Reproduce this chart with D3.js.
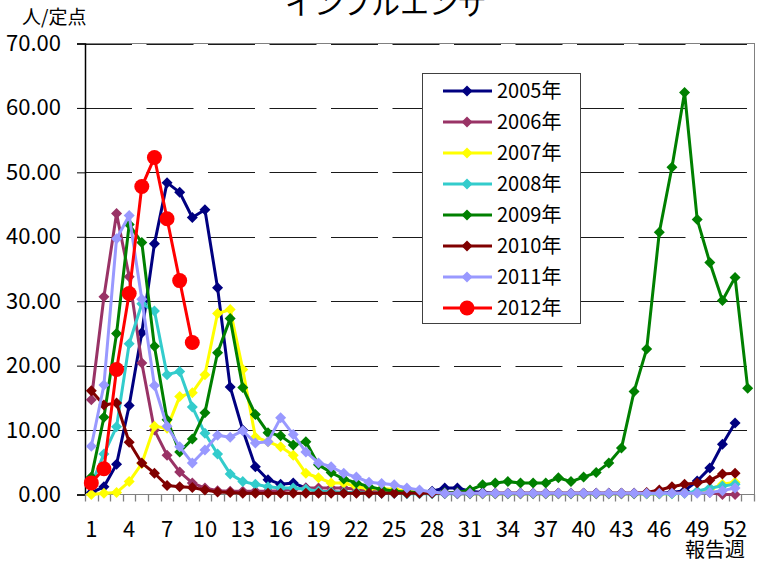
<!DOCTYPE html>
<html><head><meta charset="utf-8">
<script src="https://cdn.jsdelivr.net/npm/d3@7/dist/d3.min.js"></script>
<style>
html,body{margin:0;padding:0;background:#fff;}
svg text{font-family:"Noto Sans CJK JP","Noto Sans",sans-serif;}
</style></head>
<body><svg id="c" width="763" height="562"></svg>
<script>
const title = "インフルエンザ";
const yUnit = "人/定点";
const xUnit = "報告週";
const weeks = d3.range(1, 54);
const xTickLabels = [1,4,7,10,13,16,19,22,25,28,31,34,37,40,43,46,49,52];
const yTicks = [0,10,20,30,40,50,60,70];
const seriesNames = ["2005年","2006年","2007年","2008年","2009年","2010年","2011年","2012年"];
const seriesColors = ["#000080","#993366","#FFFF00","#33CCCC","#008000","#800000","#9999FF","#FF0000"];

const s2005 = [0.3,1.2,4.7,13.8,25.1,38.9,48.4,46.9,43.0,44.2,32.1,16.7,10.0,4.3,2.3,1.6,1.8,1.0,0.5,0.4,0.3,0.3,0.3,0.2,0.2,0.2,0.3,0.5,1.0,1.0,0.5,0.3,0.2,0.2,0.2,0.2,0.2,0.2,0.2,0.2,0.2,0.2,0.2,0.2,0.2,0.2,0.3,0.6,2.1,4.1,7.8,11.1];
const s2006 = [14.7,30.7,43.6,33.8,20.4,10.0,6.1,3.5,1.8,1.0,0.6,0.5,0.5,0.5,0.5,0.6,0.8,1.0,1.0,1.0,1.0,0.8,0.5,0.4,0.3,0.2,0.2,0.2,0.2,0.1,0.1,0.1,0.1,0.1,0.1,0.1,0.1,0.1,0.1,0.1,0.1,0.1,0.1,0.1,0.1,0.1,0.2,0.3,0.3,0.3,0.0,0.0];
const s2007 = [0.0,0.2,0.3,2.0,4.8,10.6,10.3,15.2,15.8,18.6,28.1,28.7,19.4,8.9,8.2,7.4,6.1,3.3,2.6,1.8,1.8,1.2,0.9,0.9,0.8,0.5,0.4,0.3,0.2,0.2,0.1,0.1,0.1,0.1,0.1,0.1,0.1,0.1,0.1,0.1,0.1,0.1,0.1,0.1,0.1,0.1,0.1,0.2,0.3,0.8,1.6,1.9];
const s2008 = [1.5,6.3,10.5,23.4,29.6,28.5,18.6,19.1,13.6,9.5,6.3,3.2,2.0,1.6,1.2,1.0,1.0,0.8,0.5,0.4,0.3,0.3,0.2,0.2,0.2,0.1,0.1,0.1,0.1,0.1,0.1,0.1,0.1,0.1,0.1,0.1,0.1,0.1,0.1,0.1,0.1,0.1,0.1,0.1,0.1,0.1,0.1,0.2,0.5,1.0,1.3,1.6];
const s2009 = [2.7,12.0,25.0,41.9,39.1,23.0,11.6,6.6,8.6,12.7,22.0,27.3,16.6,12.4,9.6,9.1,7.7,8.2,4.6,3.4,2.4,1.8,1.2,0.8,0.5,0.4,0.3,0.3,0.3,0.3,0.7,1.5,1.8,2.0,1.8,1.8,1.8,2.6,2.0,2.7,3.4,4.9,7.2,16.0,22.6,40.7,50.8,62.4,42.7,36.0,30.1,33.7,16.5];
const s2010 = [16.1,13.9,14.2,8.1,4.9,3.3,1.4,1.2,1.1,0.7,0.4,0.3,0.2,0.2,0.2,0.2,0.2,0.2,0.2,0.2,0.2,0.2,0.2,0.2,0.2,0.2,0.2,0.2,0.2,0.2,0.2,0.2,0.2,0.2,0.2,0.2,0.2,0.2,0.2,0.2,0.2,0.2,0.2,0.2,0.3,0.7,1.2,1.6,1.8,2.2,3.2,3.3];
const s2011 = [7.5,17.0,39.7,43.3,30.3,16.9,10.6,7.4,4.9,6.9,9.2,8.9,9.9,8.0,8.2,11.9,9.3,6.6,4.9,4.3,3.3,2.7,1.9,1.7,1.5,1.0,0.7,0.4,0.2,0.2,0.2,0.2,0.2,0.2,0.2,0.2,0.2,0.2,0.2,0.2,0.2,0.2,0.2,0.2,0.2,0.2,0.2,0.2,0.2,0.3,0.6,1.0];
const s2012 = [1.8,4.0,19.4,31.2,47.8,52.3,42.8,33.2,23.6];

const seriesValues = [s2005,s2006,s2007,s2008,s2009,s2010,s2011,s2012];

const svg = d3.select("#c");
const mLeft = 85, mRight = 754, mTop = 43.5, mBottom = 494.5;

const x = d3.scaleBand().domain(weeks).range([mLeft, mRight]).padding(0);
const y = d3.scaleLinear().domain([0, 70]).range([mBottom, mTop]);

// plot border (gray)
svg.append("rect").attr("x", mLeft).attr("y", mTop).attr("width", mRight-mLeft).attr("height", mBottom-mTop)
  .attr("fill", "none").attr("stroke", "#808080").attr("stroke-width", 1).attr("shape-rendering","crispEdges");

// dashed gridlines
svg.append("g").selectAll("line").data(yTicks.filter(d => d > 0)).join("line")
  .attr("x1", mLeft).attr("x2", mRight).attr("y1", d => Math.round(y(d))+0.5).attr("y2", d => Math.round(y(d))+0.5)
  .attr("stroke", "#1a1a1a").attr("stroke-width", 1.2).attr("stroke-dasharray", "47,14.5");

// y axis
const yAxis = d3.axisLeft(y).tickValues(yTicks).tickSize(8).tickPadding(16).tickFormat(d3.format(".2f"));
const gy = svg.append("g").attr("transform", `translate(${mLeft},0)`).call(yAxis);
gy.select(".domain").attr("stroke", "#000").attr("stroke-width", 1.5);
gy.selectAll(".tick line").attr("stroke", "#000");
gy.selectAll("text").attr("font-size", 22).attr("fill", "#000").attr("font-family", '"Noto Sans CJK JP",sans-serif');

// x axis
svg.append("line").attr("x1", mLeft).attr("x2", mRight).attr("y1", mBottom).attr("y2", mBottom).attr("stroke", "#808080");
const bounds = d3.range(0, 54).map(i => mLeft + i * x.bandwidth());
svg.append("g").selectAll("line").data(bounds).join("line")
  .attr("x1", d => Math.round(d)+0.5).attr("x2", d => Math.round(d)+0.5).attr("y1", mBottom).attr("y2", mBottom+7)
  .attr("stroke", "#808080").attr("stroke-width", 1.3);
svg.append("g").selectAll("text").data(xTickLabels).join("text")
  .attr("x", d => x(d) + x.bandwidth()/2).attr("y", 537).attr("text-anchor", "middle")
  .attr("font-size", 22).attr("fill", "#000").text(d => d);

// lines and markers
const line = d3.line().defined(d => d.v != null).x(d => x(d.w) + x.bandwidth()/2).y(d => y(d.v));
const diamond = r => `M0,${-r}L${r},0L0,${r}L${-r},0Z`;

seriesValues.forEach((vals, si) => {
  const pts = weeks.map((w, i) => ({w, v: i < vals.length ? vals[i] : null}));
  const col = seriesColors[si];
  const g = svg.append("g");
  g.append("path").datum(pts).attr("d", line).attr("fill", "none").attr("stroke", col)
    .attr("stroke-width", 3).attr("stroke-linejoin", "round");
  const valid = pts.filter(d => d.v != null);
  if (si === 7) {
    g.selectAll("circle").data(valid).join("circle")
      .attr("cx", d => x(d.w) + x.bandwidth()/2).attr("cy", d => y(d.v)).attr("r", 7.5).attr("fill", col);
  } else {
    g.selectAll("path.m").data(valid).join("path").attr("class","m")
      .attr("transform", d => `translate(${x(d.w) + x.bandwidth()/2},${y(d.v)})`)
      .attr("d", diamond(5.5)).attr("fill", col);
  }
});

// legend
const lg = svg.append("g");
lg.append("rect").attr("x", 422.5).attr("y", 73.5).attr("width", 158).attr("height", 250)
  .attr("fill", "#fff").attr("stroke", "#404040").attr("stroke-width", 1);
seriesNames.forEach((name, i) => {
  const cy = 91 + i * 31;
  const col = seriesColors[i];
  lg.append("line").attr("x1", 443).attr("x2", 492).attr("y1", cy).attr("y2", cy).attr("stroke", col).attr("stroke-width", 3);
  if (i === 7) lg.append("circle").attr("cx", 467).attr("cy", cy).attr("r", 7.5).attr("fill", col);
  else lg.append("path").attr("transform", `translate(467,${cy})`).attr("d", diamond(5.5)).attr("fill", col);
  lg.append("text").attr("x", 497).attr("y", cy).attr("dy", "0.36em").attr("font-size", 20).attr("fill", "#000").text(name);
});

// titles
svg.append("text").attr("x", 386).attr("y", 15).attr("text-anchor", "middle").attr("font-size", 29).attr("fill", "#000").text(title);
svg.append("text").attr("x", 22).attr("y", 24).attr("font-size", 19).attr("fill", "#000").text(yUnit);
svg.append("text").attr("x", 715).attr("y", 557).attr("text-anchor", "middle").attr("font-size", 20).attr("fill", "#000").text(xUnit);
</script></body></html>
